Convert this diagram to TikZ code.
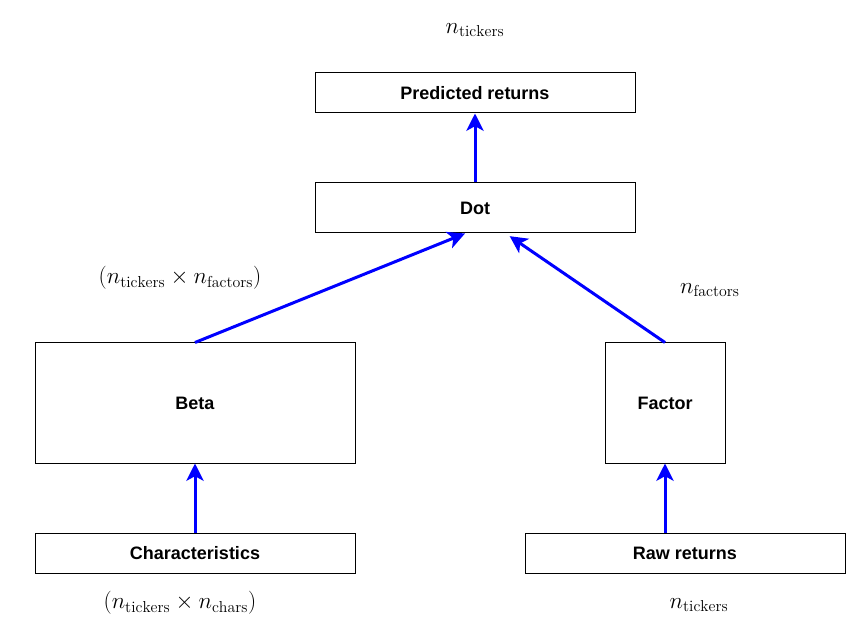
\documentclass[tikz,border=0pt]{standalone}
\usepackage{fontspec}
\newfontfamily\boxfont{Liberation Sans}
\usepackage{tikz}
\usetikzlibrary{arrows.meta,positioning}

\begin{document}
\begin{tikzpicture}[x=0.75pt,y=-0.75pt,>={Stealth[length=13pt,width=13pt,inset=3.5pt]},
  box/.style={draw,line width=0.75pt,inner sep=0pt,minimum width=240pt,minimum height=30pt,font=\boxfont\bfseries\fontsize{13.5}{16}\selectfont},
  dim/.style={font=\fontsize{17}{20}\selectfont},
  flow/.style={->,draw=blue,line width=2.25pt}]
  \useasboundingbox (0,0) rectangle (846,634);
  \node[box] (pred) at (475,93) {Predicted returns};
  \node[box,minimum height=37.5pt] (dot) at (475,208) {Dot};
  \node[box,minimum height=90pt] (beta) at (195,403) {Beta};
  \node[box,minimum width=90pt,minimum height=90pt] (factor) at (665,403) {Factor};
  \node[box] (chars) at (195,553) {Characteristics};
  \node[box] (raw) at (685,553) {Raw returns};
  % shapes of the tensors
  \node[dim] (ntop) at (475,30) {$n_{\mathrm{tickers}}$};
  \node[dim] (nbeta) at (180,278) {$\left(n_{\mathrm{tickers}}\times n_{\mathrm{factors}}\right)$};
  \node[dim] (nfactor) at (710,290) {$n_{\mathrm{factors}}$};
  \node[dim] (nchars) at (180,603) {$\left(n_{\mathrm{tickers}}\times n_{\mathrm{chars}}\right)$};
  \node[dim] (nraw) at (699,605) {$n_{\mathrm{tickers}}$};
\path (dot) edge[flow] (pred)
	  (chars) edge[flow] (beta)
	  (factor.south |- raw.north) edge[flow] (factor.south)
	  (beta.north) edge[flow] ([xshift=-7.5pt]dot.south)
	  (factor.north) edge[flow] ([xshift=26pt,yshift=-2pt]dot.south);
\end{tikzpicture}
\end{document}
